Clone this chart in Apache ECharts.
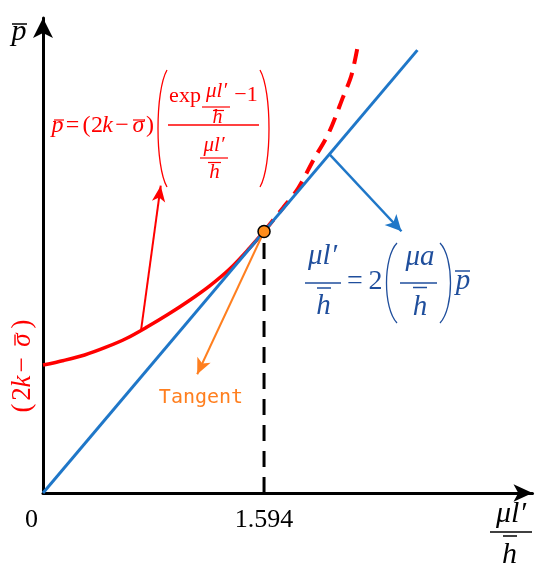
<!DOCTYPE html>
<html>
<head>
<meta charset="utf-8">
<script src="https://cdn.jsdelivr.net/npm/echarts@6/dist/echarts.min.js"></script>
<style>html,body{margin:0;padding:0;background:#fff}#c{width:550px;height:573px}</style>
</head>
<body>
<div id="c"></div>
<script>
// ---- data (x = μl'/h̄, y = p̄ in arbitrary units) ----
const curveX = [0, 0.15, 0.30, 0.45, 0.60, 0.75, 0.90, 1.05, 1.20, 1.35, 1.49, 1.594];
const curveY = [1.056, 1.094, 1.139, 1.201, 1.275, 1.370, 1.473, 1.585, 1.708, 1.853, 2.022, 2.158];
const dashX = [1.594, 1.73, 1.84, 1.95, 2.06, 2.165, 2.225, 2.27];
const dashY = [2.158, 2.352, 2.515, 2.748, 2.969, 3.271, 3.450, 3.689];
const lineX = [0, 2.70];
const lineY = [0, 3.655];
const tangentPoint = [1.594, 2.158];
const tickLabels = [0, 1.594];
// annotation arrows: [start, end] in data units
const redArrow = [[0.707, 1.343], [0.849, 2.536]];
const orangeArrow = [[1.594, 2.158], [1.112, 0.980]];
const blueArrow = [[2.065, 2.796], [2.585, 2.160]];

const RED = '#ff0000', BLUE = '#1f77c8', ORANGE = '#ff7f1f', NAVY = '#1f4e9c';
const SERIF = '"Liberation Serif", "Times New Roman", serif';

function T(x, base, text, size, color, italic, family, align) {
  return {type: 'text', x: x, y: base - 0.3375 * size, z: 100,
    style: {text: text, fill: color, font: (italic ? 'italic ' : '') + size + 'px ' + (family || SERIF),
      align: align || 'center', verticalAlign: 'middle'}};
}
function L(x1, y1, x2, y2, color, w) {
  return {type: 'line', z: 100, shape: {x1: x1, y1: y1, x2: x2, y2: y2}, style: {stroke: color, lineWidth: w || 1.3}};
}
function P(xEnd, xMid, y1, y2, color) {
  const h = y2 - y1;
  return {type: 'bezierCurve', z: 100,
    shape: {x1: xEnd, y1: y1, x2: xEnd, y2: y2, cpx1: xMid, cpy1: y1 + h * 0.18, cpx2: xMid, cpy2: y2 - h * 0.18},
    style: {stroke: color, fill: 'none', lineWidth: 1.3}};
}
function zip(a, b) { return a.map((v, i) => [v, b[i]]); }
function arrowSeries(seg, color, width, size) {
  return {type: 'line', data: [], silent: true,
    markLine: {silent: true, animation: false, symbol: ['none', 'arrow'], symbolSize: size,
      label: {show: false}, lineStyle: {color: color, width: width, type: 'solid'},
      emphasis: {disabled: true},
      data: [[{coord: seg[0]}, {coord: seg[1]}]]}};
}

const graphics = [
  // y-axis name p̄
  T(19, 42, 'p', 30, '#000', true), L(12, 24, 27, 24, '#000', 1.5),
  // x-axis name μl'/h̄
  T(511, 524, 'μl′', 30, '#000', true), L(490, 532, 532, 532, '#000', 1.5),
  L(503, 536, 517, 536, '#000', 1.5), T(509.5, 565, 'h', 30, '#000', true),
  // red formula
  T(57.5, 134, 'p', 24, RED, true), L(54, 120, 64, 120, RED, 1.2),
  T(72.5, 134, '=', 24, RED, false),
  T(86.5, 134, '(', 24, RED, false), T(97, 134, '2', 24, RED, false),
  T(107.5, 134, 'k', 24, RED, true), T(122, 134, '−', 24, RED, false),
  T(138.5, 134, 'σ', 24, RED, true), L(133, 120, 145, 120, RED, 1.2),
  T(150, 134, ')', 24, RED, false),
  P(167, 155, 70, 187, RED), P(260, 272, 70, 187, RED),
  T(185, 104, 'exp', 22, RED, false),
  T(216.5, 99, 'μl′', 21, RED, true), L(202, 107, 230, 107, RED, 1.2),
  L(213, 110.5, 224, 110.5, RED, 1.2), T(217.5, 124, 'h', 20, RED, true),
  T(246, 103, '−1', 22, RED, false),
  L(168, 125, 259, 125, RED, 1.3),
  T(214, 153, 'μl′', 21, RED, true), L(200, 158, 228, 158, RED, 1.2),
  L(208, 162.5, 221, 162.5, RED, 1.2), T(214.5, 180, 'h', 21, RED, true),
  // blue formula
  T(322.5, 266, 'μl′', 29, NAVY, true), L(305, 283, 341, 283, NAVY, 1.5),
  L(317, 288, 331, 288, NAVY, 1.5), T(323.5, 316, 'h', 29, NAVY, true),
  T(355, 291, '=', 28, NAVY, false), T(375.5, 291.5, '2', 28, NAVY, false),
  P(397, 383, 243, 323, NAVY),
  T(420, 267, 'μa', 29, NAVY, true), L(400, 283, 437, 283, NAVY, 1.5),
  L(413, 287.5, 427, 287.5, NAVY, 1.5), T(420, 317, 'h', 29, NAVY, true),
  P(440, 454, 243, 323, NAVY),
  T(463, 291.5, 'p', 29, NAVY, true), L(455, 271, 470, 271, NAVY, 1.5),
  // Tangent label
  T(201, 405, 'Tangent', 20, ORANGE, false, '"DejaVu Sans Mono", monospace'),
  // vertical (2k − σ̄)
  {type: 'group', x: 21, y: 366.5, rotation: Math.PI / 2, children: [
    T(-41.5, 11, '(', 27, RED, false), T(-27.5, 11, '2', 27, RED, false),
    T(-15, 11, 'k', 27, RED, true), T(1.5, 11, '−', 27, RED, false),
    T(26.5, 11, 'σ', 27, RED, true), L(21, -6, 32, -6, RED, 1.4),
    T(42.5, 11, ')', 27, RED, false)
  ]}
];

const chart = echarts.init(document.getElementById('c'), null, {renderer: 'canvas'});
chart.setOption({
  animation: false,
  backgroundColor: '#fff',
  grid: {left: 43, top: 18, width: 489.5, height: 475},
  xAxis: {type: 'value', min: 0, max: 3.53, splitLine: {show: false},
    axisLine: {show: true, onZero: false, symbol: ['none', 'arrow'], symbolSize: [13, 19], lineStyle: {color: '#000', width: 3}},
    axisTick: {show: false},
    axisLabel: {show: true, customValues: tickLabels, margin: 14, color: '#000', fontFamily: SERIF, fontSize: 26,
      formatter: v => v === 0 ? '{z|0}' : '{n|' + v.toFixed(3) + '}',
      rich: {z: {fontFamily: SERIF, fontSize: 26, color: '#000', padding: [0, 23, 6, 0]},
             n: {fontFamily: SERIF, fontSize: 26, color: '#000'}}}},
  yAxis: {type: 'value', min: 0, max: 3.92, splitLine: {show: false},
    axisLine: {show: true, onZero: false, symbol: ['none', 'arrow'], symbolSize: [15, 20], lineStyle: {color: '#000', width: 3}},
    axisTick: {show: false}, axisLabel: {show: false}},
  series: [
    {type: 'line', data: zip(curveX, curveY), smooth: 0.3, symbol: 'none', lineStyle: {color: RED, width: 3.5}},
    {type: 'line', data: zip(dashX, dashY), smooth: 0.3, symbol: 'none', lineStyle: {color: RED, width: 4, type: [15, 9]}},
    {type: 'line', data: zip(lineX, lineY), symbol: 'none', lineStyle: {color: BLUE, width: 3}},
    {type: 'line', data: [[tangentPoint[0], 0], tangentPoint], symbol: 'none', lineStyle: {color: '#000', width: 3, type: [16, 10]}},
    arrowSeries(redArrow, RED, 2, [10, 16]),
    arrowSeries(orangeArrow, ORANGE, 2, [11, 16]),
    arrowSeries(blueArrow, BLUE, 2.5, [12, 16]),
    {type: 'scatter', data: [tangentPoint], symbolSize: 12, z: 10,
      itemStyle: {color: '#ff8c1a', borderColor: '#000', borderWidth: 1.5, opacity: 1}}
  ],
  graphic: graphics
});
</script>
</body>
</html>
